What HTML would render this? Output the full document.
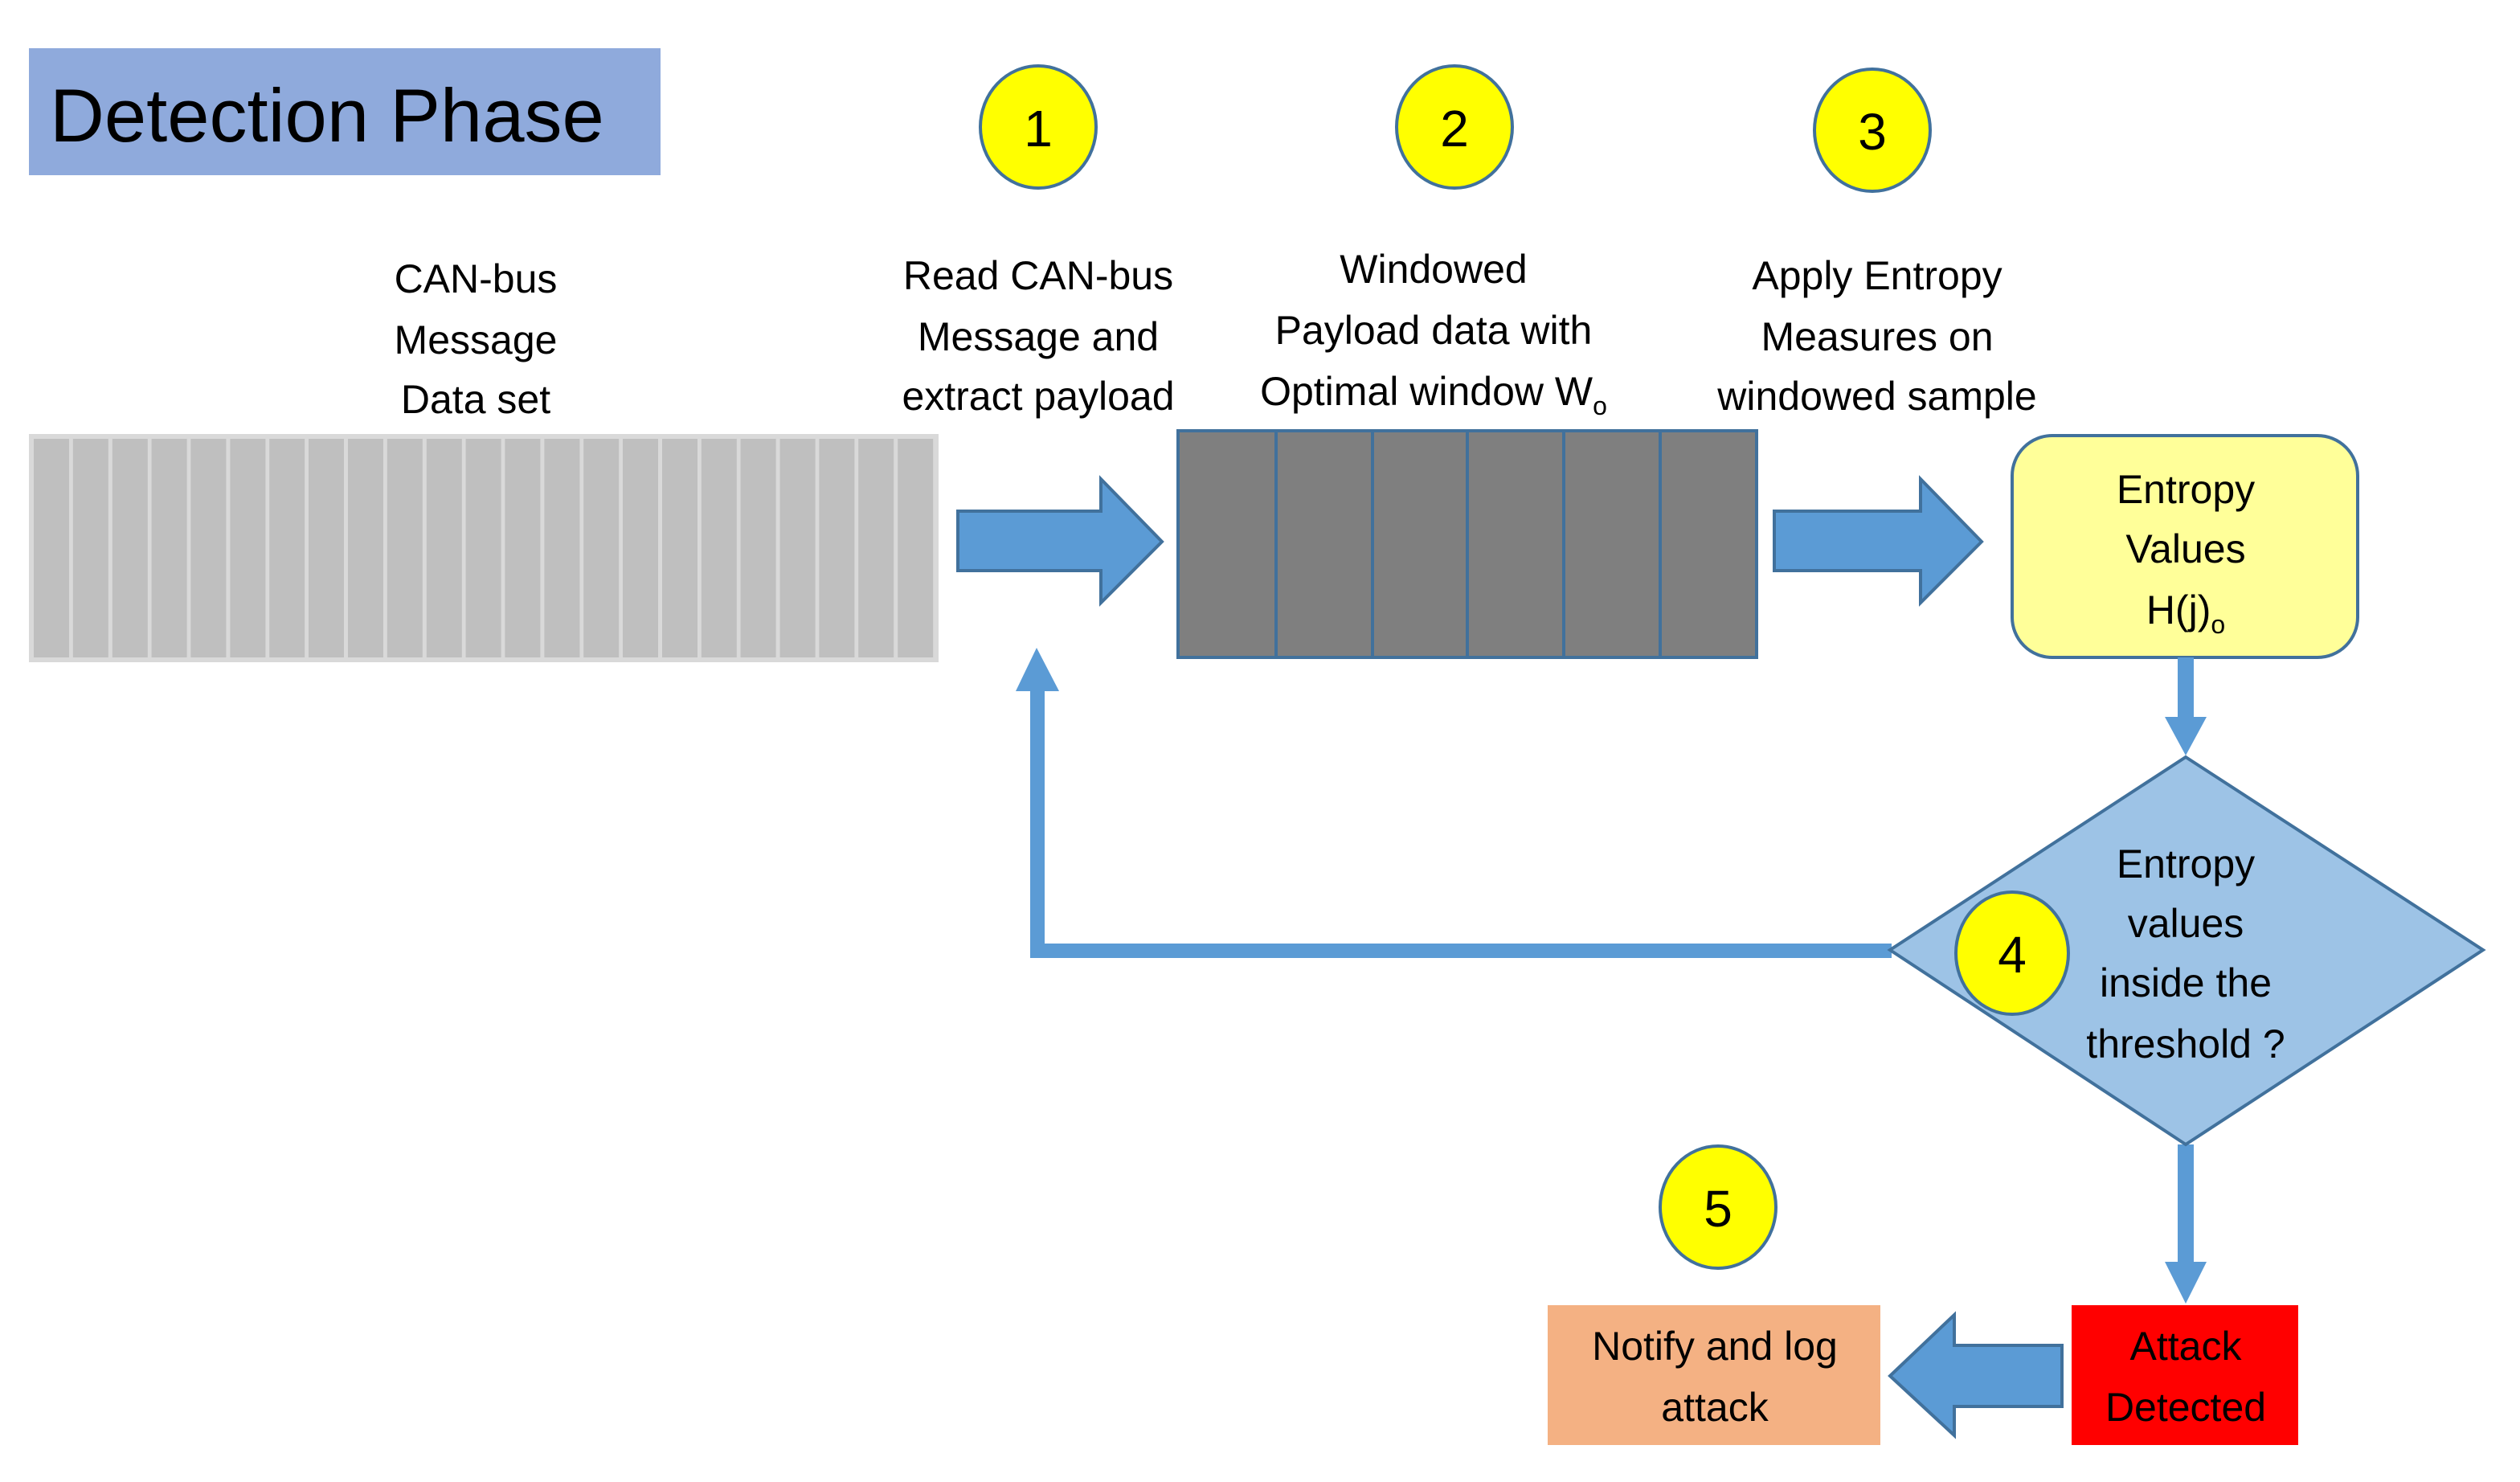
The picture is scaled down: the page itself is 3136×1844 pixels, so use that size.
<!DOCTYPE html>
<html><head><meta charset="utf-8"><style>
html,body{margin:0;padding:0;background:#fff;}
svg{display:block;}
text{font-family:"Liberation Sans",sans-serif;fill:#000;}
</style></head><body>
<svg width="3136" height="1844" viewBox="0 0 1568 922" xmlns="http://www.w3.org/2000/svg">
<rect x="18" y="30" width="393" height="79" fill="#8faadc"/>
<text x="31" y="88" font-size="47">Detection Phase</text>

<g fill="#ffff00" stroke="#41719c" stroke-width="2">
<ellipse cx="646" cy="79" rx="36" ry="38"/>
<ellipse cx="905" cy="79" rx="36" ry="38"/>
<ellipse cx="1165" cy="81" rx="36" ry="38"/>
<ellipse cx="1069" cy="751" rx="36" ry="38"/>
</g>
<g font-size="32" text-anchor="middle">
<text x="646" y="91">1</text><text x="905" y="91">2</text><text x="1165" y="93">3</text><text x="1069" y="763">5</text>
</g>

<g font-size="25" text-anchor="middle">
<text x="296" y="182">CAN-bus</text><text x="296" y="220">Message</text><text x="296" y="257">Data set</text>
<text x="646" y="180">Read CAN-bus</text><text x="646" y="218">Message and</text><text x="646" y="255">extract payload</text>
<text x="892" y="176">Windowed</text><text x="892" y="214">Payload data with</text><text x="892" y="252">Optimal window W<tspan font-size="16" dy="6">o</tspan></text>
<text x="1168" y="180">Apply Entropy</text><text x="1168" y="218">Measures on</text><text x="1168" y="255">windowed sample</text>
</g>

<rect x="18" y="270" width="566" height="142" fill="#d9d9d9"/>
<g fill="#bfbfbf">
<rect x="21" y="273" width="22" height="136"/><rect x="45.4" y="273" width="22" height="136"/><rect x="69.9" y="273" width="22" height="136"/><rect x="94.3" y="273" width="22" height="136"/><rect x="118.7" y="273" width="22" height="136"/><rect x="143.2" y="273" width="22" height="136"/><rect x="167.6" y="273" width="22" height="136"/><rect x="192" y="273" width="22" height="136"/><rect x="216.5" y="273" width="22" height="136"/><rect x="240.9" y="273" width="22" height="136"/><rect x="265.4" y="273" width="22" height="136"/><rect x="289.8" y="273" width="22" height="136"/><rect x="314.2" y="273" width="22" height="136"/><rect x="338.7" y="273" width="22" height="136"/><rect x="363.1" y="273" width="22" height="136"/><rect x="387.5" y="273" width="22" height="136"/><rect x="412" y="273" width="22" height="136"/><rect x="436.4" y="273" width="22" height="136"/><rect x="460.8" y="273" width="22" height="136"/><rect x="485.3" y="273" width="22" height="136"/><rect x="509.7" y="273" width="22" height="136"/><rect x="534.1" y="273" width="22" height="136"/><rect x="558.6" y="273" width="22" height="136"/>
</g>

<g fill="#5b9bd5" stroke="#41719c" stroke-width="2">
<polygon points="596,318 685,318 685,298 723,337 685,375 685,355 596,355"/>
<polygon points="1104,318 1195,318 1195,298 1233,337 1195,375 1195,355 1104,355"/>
<polygon points="1283,837 1216,837 1216,818 1176,856 1216,893 1216,875 1283,875"/>
</g>

<rect x="733" y="268" width="360" height="141" fill="#7f7f7f" stroke="#41719c" stroke-width="2"/>
<g stroke="#41719c" stroke-width="2">
<line x1="794" y1="268" x2="794" y2="409"/><line x1="854" y1="268" x2="854" y2="409"/>
<line x1="913" y1="268" x2="913" y2="409"/><line x1="973" y1="268" x2="973" y2="409"/>
<line x1="1033" y1="268" x2="1033" y2="409"/>
</g>

<rect x="1252" y="271" width="215" height="138" rx="25" fill="#ffff99" stroke="#41719c" stroke-width="2"/>
<g font-size="25" text-anchor="middle">
<text x="1360" y="313">Entropy</text><text x="1360" y="350">Values</text>
<text x="1360" y="388">H(j)<tspan font-size="16" dy="6">o</tspan></text>
</g>

<g fill="#5b9bd5" stroke="none">
<rect x="1355" y="409" width="10" height="40"/>
<polygon points="1347,446 1373,446 1360,470"/>
<rect x="1355" y="712" width="10" height="76"/>
<polygon points="1347,785 1373,785 1360,811"/>
<rect x="641" y="587" width="536" height="9"/>
<rect x="641" y="428" width="9" height="168"/>
<polygon points="632,430 659,430 645,403"/>
</g>

<polygon points="1360,471 1545,591 1360,712 1176,591" fill="#9dc3e6" stroke="#41719c" stroke-width="2"/>
<ellipse cx="1252" cy="593" rx="35" ry="38" fill="#ffff00" stroke="#41719c" stroke-width="2"/>
<text x="1252" y="605" font-size="32" text-anchor="middle">4</text>
<g font-size="25" text-anchor="middle">
<text x="1360" y="546">Entropy</text><text x="1360" y="583">values</text>
<text x="1360" y="620">inside the</text><text x="1360" y="658">threshold ?</text>
</g>

<rect x="1289" y="812" width="141" height="87" fill="#ff0000"/>
<rect x="963" y="812" width="207" height="87" fill="#f4b183"/>
<g font-size="25" text-anchor="middle">
<text x="1360" y="846">Attack</text><text x="1360" y="884">Detected</text>
<text x="1067" y="846">Notify and log</text><text x="1067" y="884">attack</text>
</g>
</svg>
</body></html>
